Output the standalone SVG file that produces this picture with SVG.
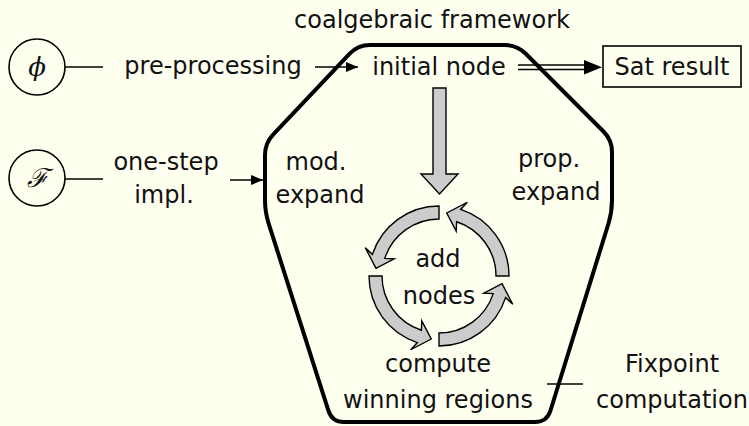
<svg xmlns="http://www.w3.org/2000/svg" xmlns:xlink="http://www.w3.org/1999/xlink" width="749" height="426" viewBox="0 0 749 426">
<style>
text{font-family:"DejaVu Sans",sans-serif;font-size:24px;fill:#111;text-anchor:middle}
.math{font-family:"DejaVu Serif",serif;font-style:italic;font-size:26px}
.thin{fill:none;stroke:#000;stroke-width:1.6}
.grey{fill:#cccccc;stroke:#000;stroke-width:1.4;stroke-linejoin:miter}
</style>
<defs>
<marker id="ah" viewBox="0 0 12 10" refX="12" refY="5" markerWidth="12" markerHeight="10" markerUnits="userSpaceOnUse" orient="auto">
<path d="M0,0 L12,5 L0,10 Z" fill="#000"/>
</marker>
<path id="carc" d="M439,206 A70,70 0 0 0 372.42,254.37 L365.25,247.69 L375.97,268.26 L394.19,258.8 L384.79,258.39 A57,57 0 0 1 439,219 Z"/>
</defs>
<rect width="749" height="426" fill="#fffff0"/>
<g id="framework">
<path d="M370,45 L505,45 Q517,45 525.5,53.5 L603.5,131.5 Q612,140 612,152 L612,200 Q612,212 608.5,223.5 L550.5,410.5 Q547,422 535,422 L344,422 Q332,422 328.4,410.6 L268.6,223.4 Q265,212 265,200 L265,155 Q265,143 273.3,134.3 L349.7,53.7 Q358,45 370,45 Z" fill="none" stroke="#000" stroke-width="4"/>
<text x="432" y="28">coalgebraic framework</text>
<text x="316" y="170">mod.</text>
<text x="320" y="203">expand</text>
<text x="549" y="167">prop.</text>
<text x="556" y="200">expand</text>
</g>
<g id="phi">
<circle cx="37" cy="67" r="28" class="thin"/>
<text x="37" y="76" class="math">ϕ</text>
</g>
<g id="F">
<circle cx="37" cy="178" r="28" class="thin"/>
<text x="37" y="187" class="math">ℱ</text>
</g>
<g id="initial">
<text x="439" y="75">initial node</text>
</g>
<g id="sat">
<rect x="603" y="46" width="138" height="41" class="thin"/>
<text x="672" y="75">Sat result</text>
</g>
<g id="cycle">
<use xlink:href="#carc" class="grey"/>
<use xlink:href="#carc" class="grey" transform="rotate(-90 439 276)"/>
<use xlink:href="#carc" class="grey" transform="rotate(-180 439 276)"/>
<use xlink:href="#carc" class="grey" transform="rotate(90 439 276)"/>
<text x="438" y="267">add</text>
<text x="439" y="304">nodes</text>
</g>
<g id="compute">
<text x="438" y="372">compute</text>
<text x="438" y="408">winning regions</text>
</g>
<g id="fixpoint">
<text x="672" y="372">Fixpoint</text>
<text x="672" y="408">computation</text>
</g>
<g id="connectors">
<line x1="65" y1="67" x2="103" y2="67" class="thin"/>
<text x="213" y="74">pre-processing</text>
<line x1="315" y1="67" x2="358" y2="67" class="thin" marker-end="url(#ah)"/>
<line x1="65" y1="179" x2="103" y2="179" class="thin"/>
<text x="166" y="170">one-step</text>
<text x="164" y="203">impl.</text>
<line x1="230" y1="180" x2="263" y2="180" class="thin" marker-end="url(#ah)"/>
<line x1="518" y1="65" x2="588" y2="65" stroke="#000" stroke-width="1.5"/>
<line x1="518" y1="69.5" x2="588" y2="69.5" stroke="#000" stroke-width="1.5"/>
<path d="M584,60 L602,67.25 L584,74.5 Z" fill="#000"/>
<path d="M433,88 L446,88 L446,174 L458,174 L439.5,194 L421,174 L433,174 Z" class="grey"/>
<line x1="547" y1="384" x2="583" y2="384" class="thin"/>
</g>
</svg>
